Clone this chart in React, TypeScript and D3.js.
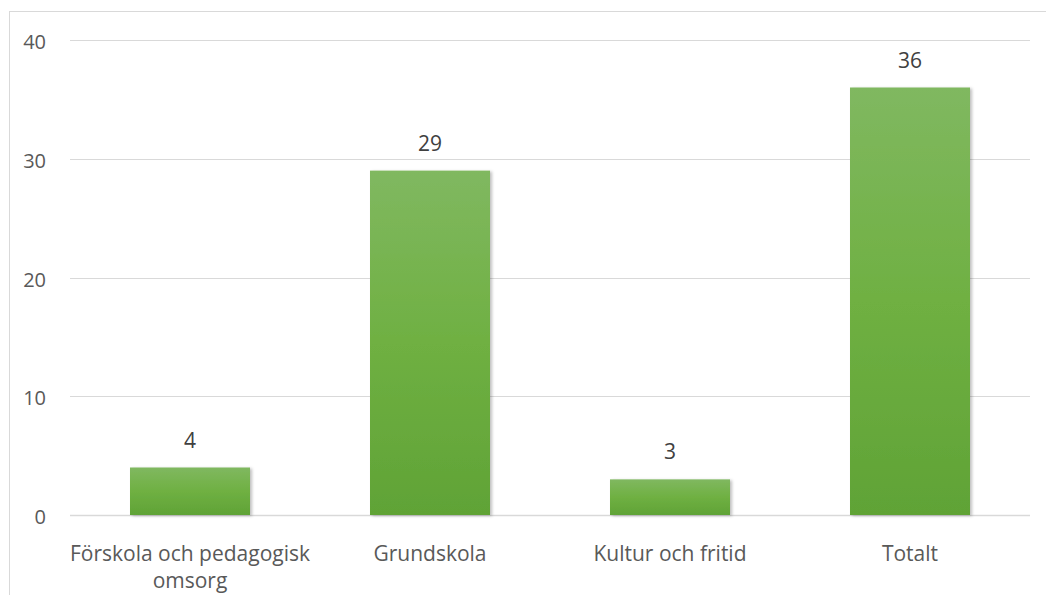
import { useEffect, useRef } from 'react';
import * as d3 from 'd3';

const categories: string[][] = [
  ['Förskola och pedagogisk', 'omsorg'],
  ['Grundskola'],
  ['Kultur och fritid'],
  ['Totalt'],
];
const values: number[] = [4, 29, 3, 36];
const yTicks: number[] = [0, 10, 20, 30, 40];

const App = () => {
  const ref = useRef<SVGSVGElement>(null);

  useEffect(() => {
    if (!ref.current) return;
    const svg = d3.select(ref.current);
    svg.selectAll('*').remove();

    const width = 1046;
    const height = 595;
    const margin = { top: 40, right: 16, bottom: 80, left: 70 };
    const innerW = 960;
    const innerH = height - margin.top - margin.bottom;
    const font = '"Open Sans", "Noto Sans", sans-serif';

    // degradado de las barras
    const defs = svg.append('defs');
    const grad = defs.append('linearGradient')
      .attr('id', 'barGrad').attr('x1', 0).attr('y1', 0).attr('x2', 0).attr('y2', 1);
    grad.append('stop').attr('offset', '0%').attr('stop-color', '#80b860');
    grad.append('stop').attr('offset', '50%').attr('stop-color', '#6fb042');
    grad.append('stop').attr('offset', '100%').attr('stop-color', '#60a336');
    const filt = defs.append('filter').attr('id', 'shadow')
      .attr('x', '-10%').attr('y', '-10%').attr('width', '130%').attr('height', '130%');
    filt.append('feDropShadow')
      .attr('dx', 2).attr('dy', 1).attr('stdDeviation', 1.5)
      .attr('flood-color', '#000').attr('flood-opacity', 0.25);

    // marco
    svg.append('rect')
      .attr('x', 9.5).attr('y', 11.5).attr('width', width).attr('height', height)
      .attr('fill', 'white').attr('stroke', '#d9d9d9').attr('stroke-width', 1);

    const g = svg.append('g').attr('transform', `translate(${margin.left},${margin.top})`);

    const x = d3.scaleBand<number>()
      .domain(values.map((_, i) => i))
      .range([0, innerW])
      .paddingInner(0.5).paddingOuter(0.25);

    const y = d3.scaleLinear().domain([0, 40]).range([innerH, 0]);

    // grid
    g.selectAll('line.grid')
      .data(yTicks)
      .join('line')
      .attr('class', 'grid')
      .attr('x1', 0).attr('x2', innerW)
      .attr('y1', d => Math.round(y(d)) + 0.5).attr('y2', d => Math.round(y(d)) + 0.5)
      .attr('stroke', '#d9d9d9')
      .attr('stroke-width', d => (d === 0 ? 1.5 : 1));

    g.selectAll('text.ytick')
      .data(yTicks)
      .join('text')
      .attr('class', 'ytick')
      .attr('x', -24).attr('y', d => y(d) + 9)
      .attr('text-anchor', 'end')
      .attr('fill', '#595959')
      .style('font-family', font).style('font-size', '20px')
      .text(d => d);

    // barras
    g.selectAll('rect.bar')
      .data(values)
      .join('rect')
      .attr('class', 'bar')
      .attr('x', (_, i) => x(i)!)
      .attr('width', x.bandwidth())
      .attr('y', d => y(d))
      .attr('height', d => innerH - y(d))
      .attr('fill', 'url(#barGrad)')
      .attr('filter', 'url(#shadow)');

    g.selectAll('text.val')
      .data(values)
      .join('text')
      .attr('class', 'val')
      .attr('x', (_, i) => x(i)! + x.bandwidth() / 2)
      .attr('y', d => y(d) - 20)
      .attr('text-anchor', 'middle')
      .attr('fill', '#404040')
      .style('font-family', font).style('font-size', '21px')
      .text(d => d);

    // etiquetas de categoría
    const cat = g.selectAll('text.cat')
      .data(categories)
      .join('text')
      .attr('class', 'cat')
      .attr('x', (_, i) => x(i)! + x.bandwidth() / 2)
      .attr('y', innerH + 46)
      .attr('text-anchor', 'middle')
      .attr('fill', '#595959')
      .style('font-family', font).style('font-size', '21px');
    cat.selectAll('tspan')
      .data(d => d)
      .join('tspan')
      .attr('x', function () {
        return (this as SVGTSpanElement).parentElement!.getAttribute('x');
      })
      .attr('dy', (_, i) => (i === 0 ? 0 : 27))
      .text(d => d);
  }, []);

  return (
    <svg
      ref={ref}
      width={1046}
      height={595}
      style={{ position: 'absolute', left: 0, top: 0, background: 'white' }}
    />
  );
};

export default App;
